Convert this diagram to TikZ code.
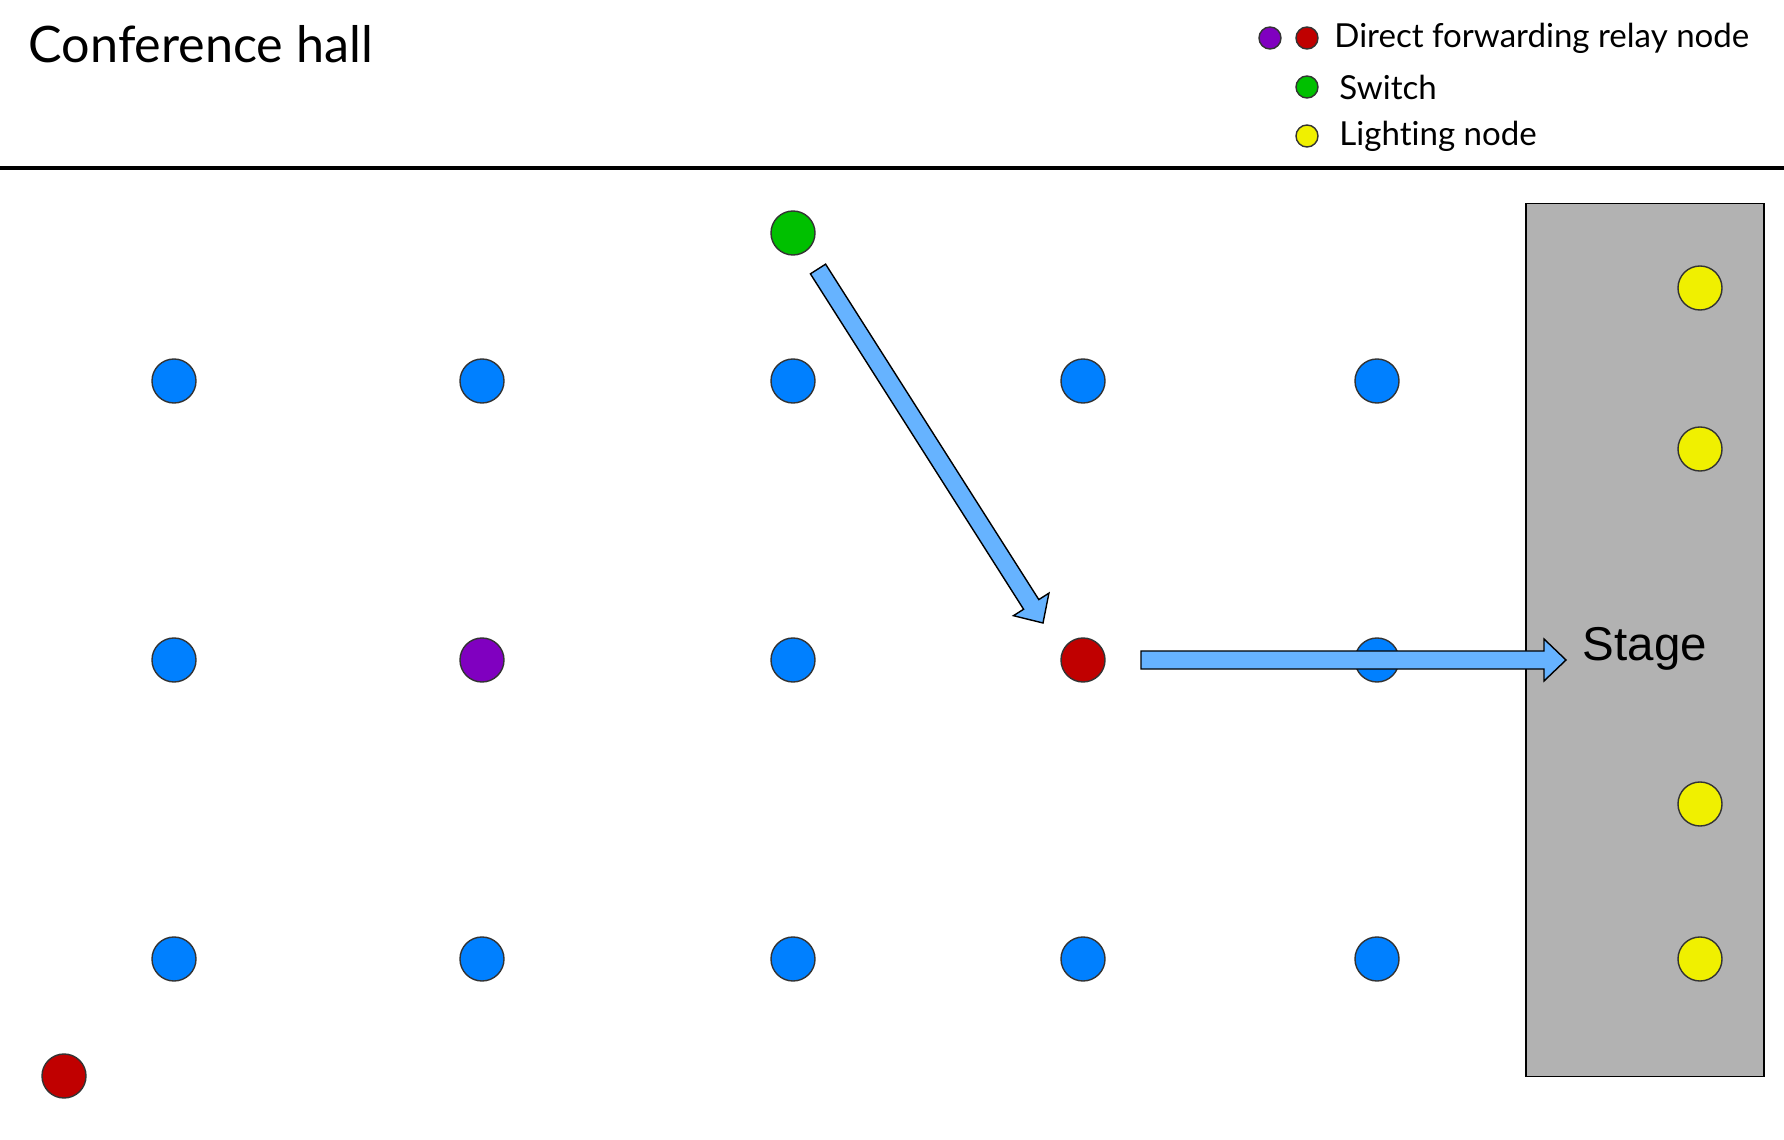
\documentclass[tikz,border=0pt]{standalone}
\usepackage{fontspec}
\setmainfont{Lato}[Ligatures=NoCommon]
\newfontfamily\stagefont{Liberation Sans}
\usepackage{tikz}
\usetikzlibrary{positioning,calc}
\definecolor{nodeblue}{HTML}{0080FF}
\definecolor{relaypurple}{HTML}{8000C0}
\definecolor{relayred}{HTML}{C00000}
\definecolor{switchgreen}{HTML}{00C000}
\definecolor{lampyellow}{HTML}{F0F000}
\definecolor{stagegrey}{HTML}{B2B2B2}
\definecolor{flowblue}{HTML}{66B3FF}
\definecolor{rim}{HTML}{333333}
% block arrow from #1 to #2
\newcommand{\flowarrow}[2]{%
  \coordinate (fh) at ($(#2)!0.22cm!(#1)$);
  \filldraw[fill=flowblue, draw=black, line width=0.4pt, line join=miter]
    ($(#1)!0.09cm!90:(#2)$) -- ($(fh)!0.09cm!-90:(#1)$) -- ($(fh)!0.21cm!-90:(#1)$)
    -- (#2) -- ($(fh)!0.21cm!90:(#1)$) -- ($(fh)!0.09cm!90:(#1)$)
    -- ($(#1)!0.09cm!-90:(#2)$) -- cycle;}

\begin{document}
\begin{tikzpicture}[x=0.01cm,y=-0.01cm,
  dot/.style={circle, draw=rim, line width=0.4pt, minimum size=0.44cm, inner sep=0pt},
  legdot/.style={circle, draw=rim, line width=0.4pt, minimum size=0.22cm, inner sep=0pt},
  legtext/.style={font=\fontsize{9.4}{11}\selectfont, inner sep=0pt}]
  \useasboundingbox (0,0) rectangle (1784,1140);
  \node[anchor=base west, inner sep=0pt, font=\fontsize{14.3}{16}\selectfont] (title) at (28,63) {Conference hall};
  \draw[line width=1pt] (0,168) -- (1784,168);

  % legend
  \node[legdot, fill=relaypurple] (lg1) at (1270,38) {};
  \node[legdot, fill=relayred] (lg2) at (1307,38) {};
  \node[legdot, fill=switchgreen] (lg3) at (1307,87) {};
  \node[legdot, fill=lampyellow] (lg4) at (1307,136) {};
  \node[legtext, right=0.15cm of lg2] {Direct forwarding relay node};
  \node[legtext, right=0.2cm of lg3] {Switch};
  \node[legtext, right=0.2cm of lg4] {Lighting node};

  % stage with the lamps
  \node[draw=black, line width=0.4pt, fill=stagegrey, minimum width=2.38cm, minimum height=8.72cm] (stage) at (1645,640) {};
  \node[font=\stagefont\fontsize{13.5}{16}\selectfont] (stagetext) at (1645,649) {Stage};
  \foreach \y [count=\k] in {288,449,804,959} \node[dot, fill=lampyellow] (l\k) at (1700,\y) {};

  % seats grid
  \foreach \x [count=\i] in {174,482,793,1083,1377} \foreach \y [count=\j] in {381,660,959} {
    \pgfmathtruncatemacro{\hole}{(\j==2 && isodd(\i)==0) ? 1 : 0}
    \ifnum\hole=0 \node[dot, fill=nodeblue] (n\i\j) at (\x,\y) {}; \fi }
  \node[dot, fill=relaypurple] (p2) at (482,660) {};
  \node[dot, fill=relayred] (r2) at (1083,660) {};
  \node[dot, fill=relayred] (r0) at (64,1076) {};
  \node[dot, fill=switchgreen] (sw) at (793,233) {};

  % forwarding path
  \coordinate (a1s) at ($(sw)+(25,36)$);
  \coordinate (a1e) at ($(r2)+(-40,-37)$);
  \coordinate (a2s) at ($(r2)+(58,0)$);
  \coordinate (a2e) at ($(r2)+(483,0)$);
  \flowarrow{a1s}{a1e}
  \flowarrow{a2s}{a2e}
\end{tikzpicture}
\end{document}
